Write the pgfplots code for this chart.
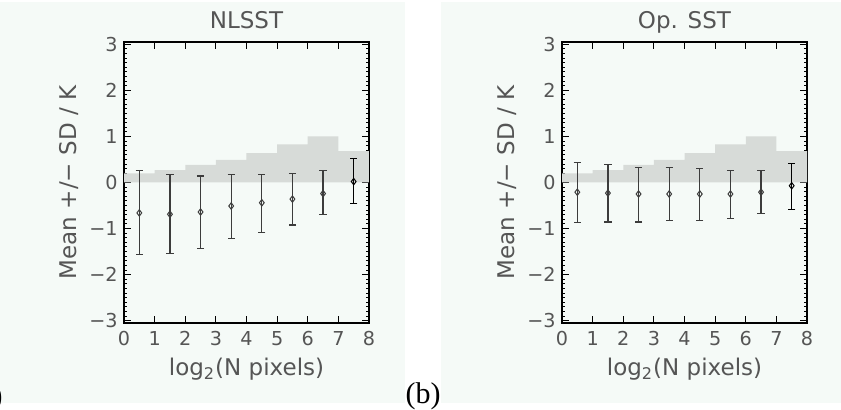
\documentclass[border=0pt]{standalone}
\usepackage{fontspec}
\setmainfont{DejaVu Sans}
\newfontfamily\seriffont{Liberation Serif}
\usepackage{pgfplots}
\usepackage{pgfplotstable}
\pgfplotsset{compat=1.18}

\definecolor{panelbg}{RGB}{245,250,247}
\definecolor{shade}{RGB}{215,219,216}
\definecolor{txt}{RGB}{85,85,85}
\definecolor{bar}{RGB}{60,60,60}

% histogram of the fraction of cases (same in both panels)
\pgfplotstableread{
x h
0 0.20
1 0.27
2 0.38
3 0.49
4 0.64
5 0.83
6 1.00
7 0.68
8 0.68
}\shadetab

% NLSST: mean, +SD, -SD
\pgfplotstableread{
x m ep em
0.5 -0.66 0.92 0.90
1.5 -0.69 0.86 0.85
2.5 -0.64 0.78 0.80
3.5 -0.51 0.68 0.70
4.5 -0.44 0.61 0.65
5.5 -0.36 0.55 0.56
6.5 -0.24 0.50 0.46
}\nlsst
\pgfplotstableread{
x m ep em
7.5 0.02 0.50 0.48
}\nlsstlast

% Op. SST
\pgfplotstableread{
x m ep em
0.5 -0.21 0.65 0.66
1.5 -0.23 0.62 0.63
2.5 -0.25 0.58 0.61
3.5 -0.25 0.58 0.57
4.5 -0.25 0.56 0.57
5.5 -0.25 0.51 0.53
6.5 -0.21 0.47 0.47
}\opsst
\pgfplotstableread{
x m ep em
7.5 -0.07 0.48 0.51
}\opsstlast

\pgfplotsset{
  sstpanel/.style={
    scale only axis, width=122.5pt, height=140.5pt,
    anchor=south west,
    xmin=0, xmax=8, ymin=-3.05, ymax=3.05,
    xtick={0,...,8}, ytick={-3,...,3},
    yticklabels={−3,−2,−1,0,1,2,3},
    minor y tick num=9,
    tick align=inside, xtick pos=both, ytick pos=both,
    major tick length=3.5pt, minor tick length=1.6pt,
    every tick/.style={black, line width=0.5pt},
    axis line style={black, line width=0.7pt},
    ticklabel style={font=\fontsize{9.6}{11}\selectfont, text=txt},
    /pgf/number format/assume math mode=true,
    xticklabel style={anchor=base, yshift=-11.5pt},
    yticklabel style={anchor=east, inner sep=0pt, xshift=-3pt},
    label style={font=\fontsize{11.5}{13}\selectfont, text=txt},
    xlabel={log\textsubscript{2}(N pixels)},
    xlabel style={at={(axis description cs:0.5,-0.1886)}, anchor=base},
    ylabel={Mean +/− SD / K},
    ylabel style={at={(axis description cs:-0.2245,0.5)}, anchor=center},
    every axis title shift=0pt,
    title style={font=\fontsize{11.5}{13}\selectfont, text=txt,
      at={(axis description cs:0.5,1.0498)}, anchor=base},
  },
  shadeplot/.style={const plot, fill=shade, draw=none},
  sdbars/.style={only marks, mark=diamond, mark size=1.6pt,
    mark options={line width=0.5pt},
    error bars/.cd, y dir=both, y explicit,
    error bar style={line width=0.65pt},
    error mark options={rotate=90, mark size=1.8pt, line width=0.65pt}},
}

\begin{document}
\begin{tikzpicture}
\path[use as bounding box] (0,0) rectangle (420.5pt,205pt);
\clip (0,0) rectangle (420.5pt,205pt);
\fill[panelbg] (0,3.5pt) rectangle (202.5pt,204pt);
\fill[panelbg] (220.5pt,3.5pt) rectangle (420.5pt,204pt);

\begin{axis}[sstpanel, at={(62pt,43.5pt)}, title={NLSST}]
\addplot[shadeplot] table[x=x, y=h] {\shadetab} \closedcycle;
\addplot[bar, sdbars] table[x=x, y=m, y error plus=ep, y error minus=em] {\nlsst};
\addplot[black, sdbars] table[x=x, y=m, y error plus=ep, y error minus=em] {\nlsstlast};
\end{axis}

\begin{axis}[sstpanel, at={(281pt,43.5pt)}, title={Op. SST}]
\addplot[shadeplot] table[x=x, y=h] {\shadetab} \closedcycle;
\addplot[bar, sdbars] table[x=x, y=m, y error plus=ep, y error minus=em] {\opsst};
\addplot[black, sdbars] table[x=x, y=m, y error plus=ep, y error minus=em] {\opsstlast};
\end{axis}

\node[anchor=base east, font=\seriffont\fontsize{15}{17}\selectfont, inner sep=0pt] at (1.5pt,2pt) {(a)};
\node[anchor=base, font=\seriffont\fontsize{15}{17}\selectfont, inner sep=0pt] at (211.5pt,3.3pt) {(b)};
\end{tikzpicture}
\end{document}
